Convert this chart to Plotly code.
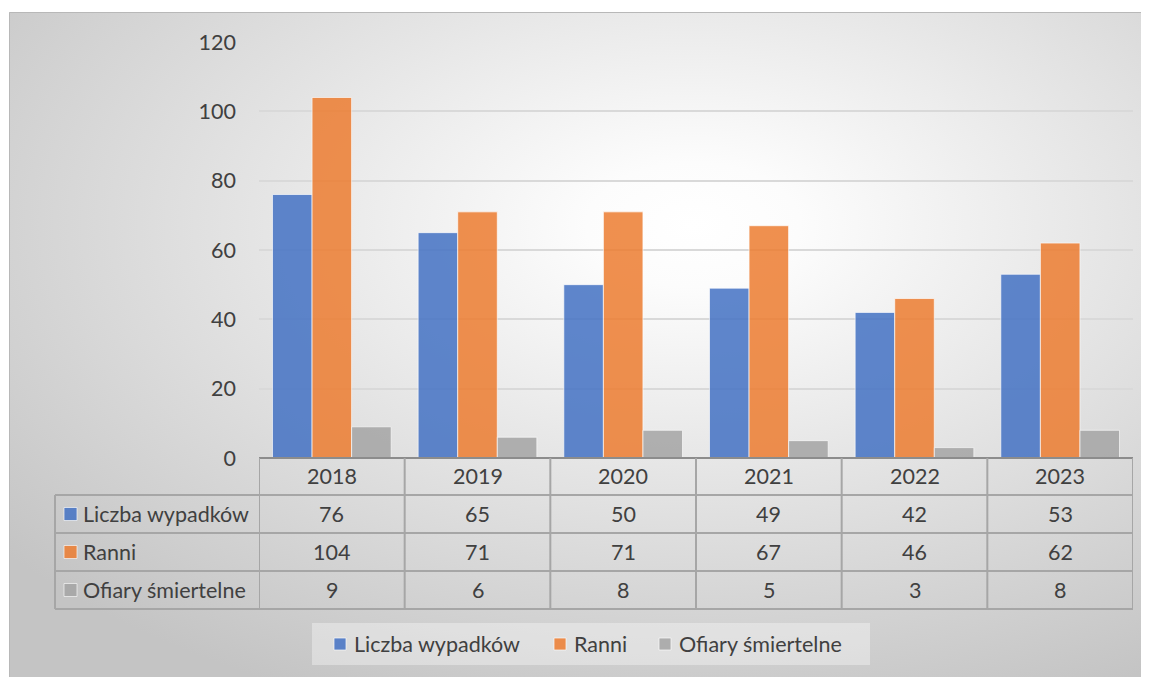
import base64
import plotly.graph_objects as go

years = ["2018", "2019", "2020", "2021", "2022", "2023"]
series_names = ["Liczba wypadków", "Ranni", "Ofiary śmiertelne"]
wypadki = [76, 65, 50, 49, 42, 53]
ranni = [104, 71, 71, 67, 46, 62]
ofiary = [9, 6, 8, 5, 3, 8]
y_ticks = [0, 20, 40, 60, 80, 100, 120]

series_values = [wypadki, ranni, ofiary]
colors = ["#4472C4", "#ED7D31", "#A5A5A5"]

OFF = 8  # page body margin
PAGE_W, PAGE_H = 1149, 677
W, H = PAGE_W - OFF, PAGE_H - OFF
L, R, T, B = 259, 1133, 42, 458  # plot area in page px
PW, PH = R - L, B - T
FONT = "Lato"
TXT = "#404040"
GRID = "#d9d9d9"
TBL = "#a6a6a6"
FS = 21.5


def px(x):
    return (x - L) / PW


def py(y):
    return (B - y) / PH


fig = go.Figure()
for name, vals, col in zip(series_names, series_values, colors):
    fig.add_trace(go.Bar(
        x=years, y=vals, name=name,
        marker=dict(color=col, opacity=0.85,
                    line=dict(color="rgba(255,255,255,0.7)", width=1)),
    ))

# background gradient image
svg = ('<svg xmlns="http://www.w3.org/2000/svg" width="1140" height="665" '
       'viewBox="0 0 1140 665" preserveAspectRatio="none"><defs>'
       '<radialGradient id="g" cx="0.6" cy="0.32" r="0.78">'
       '<stop offset="0" stop-color="#ffffff"/>'
       '<stop offset="0.12" stop-color="#fcfcfc"/>'
       '<stop offset="1" stop-color="#c4c4c4"/></radialGradient></defs>'
       '<rect width="1140" height="665" fill="url(#g)"/></svg>')
src = "data:image/svg+xml;base64," + base64.b64encode(svg.encode()).decode()

shapes = []
annotations = []

# chart border
shapes.append(dict(type="rect", xref="paper", yref="paper",
                   x0=px(9.5), x1=px(1160), y0=py(12.5), y1=py(690),
                   line=dict(color="#b8b8b8", width=1), layer="below"))

# table geometry (page px)
row_y = [458, 495, 533, 571, 609]
left_x = 55

for i, yy in enumerate(row_y):
    x0 = L if i == 0 else left_x
    shapes.append(dict(type="line", xref="paper", yref="paper",
                       x0=px(x0), x1=px(R), y0=py(yy), y1=py(yy),
                       line=dict(color=TBL if i > 0 else "#8c8c8c", width=2)))
shapes.append(dict(type="line", xref="paper", yref="paper",
                   x0=px(left_x), x1=px(left_x), y0=py(495), y1=py(609),
                   line=dict(color=TBL, width=2)))
for k in range(len(years) + 1):
    shapes.append(dict(type="line", xref="x", yref="paper",
                       x0=k - 0.5, x1=k - 0.5, y0=py(458), y1=py(609),
                       line=dict(color=TBL, width=2)))

for i, yr in enumerate(years):
    annotations.append(dict(x=i, xref="x", y=py((458 + 495) / 2), yref="paper",
                            text=yr, showarrow=False,
                            font=dict(family=FONT, size=FS, color=TXT),
                            xanchor="center", yanchor="middle"))
for r, (name, vals, col) in enumerate(zip(series_names, series_values, colors)):
    yc = (row_y[r + 1] + row_y[r + 2]) / 2
    shapes.append(dict(type="rect", xref="paper", yref="paper",
                       x0=px(64), x1=px(77), y0=py(yc - 6.5), y1=py(yc + 6.5),
                       fillcolor=col, opacity=0.85,
                       line=dict(color="rgba(255,255,255,0.7)", width=1)))
    annotations.append(dict(x=px(81), xref="paper", y=py(yc), yref="paper",
                            text=name, showarrow=False,
                            font=dict(family=FONT, size=FS, color=TXT),
                            xanchor="left", yanchor="middle"))
    for i, v in enumerate(vals):
        annotations.append(dict(x=i, xref="x", y=py(yc), yref="paper",
                                text=str(v), showarrow=False,
                                font=dict(family=FONT, size=FS, color=TXT),
                                xanchor="center", yanchor="middle"))

# legend (drawn manually to match spacing)
leg_y = 644
shapes.append(dict(type="rect", xref="paper", yref="paper",
                   x0=px(312), x1=px(870), y0=py(623), y1=py(665),
                   fillcolor="rgba(255,255,255,0.35)", line=dict(width=0)))
leg_sq_x = [334, 554, 659]
for name, col, sx in zip(series_names, colors, leg_sq_x):
    shapes.append(dict(type="rect", xref="paper", yref="paper",
                       x0=px(sx), x1=px(sx + 12), y0=py(leg_y - 6), y1=py(leg_y + 6),
                       fillcolor=col, opacity=0.85,
                       line=dict(color="rgba(255,255,255,0.7)", width=1)))
    annotations.append(dict(x=px(sx + 18), xref="paper", y=py(leg_y), yref="paper",
                            text=name, showarrow=False,
                            font=dict(family=FONT, size=FS, color=TXT),
                            xanchor="left", yanchor="middle"))

fig.update_layout(
    width=W, height=H,
    margin=dict(l=L - OFF, r=PAGE_W - R, t=T - OFF, b=PAGE_H - B, pad=0),
    paper_bgcolor="white",
    plot_bgcolor="rgba(0,0,0,0)",
    barmode="group", bargap=0.185, bargroupgap=0,
    font=dict(family=FONT, size=FS, color=TXT),
    images=[dict(source=src, xref="paper", yref="paper",
                 x=px(9), y=py(12), sizex=(PAGE_W - 9) / PW, sizey=(PAGE_H - 12) / PH,
                 xanchor="left", yanchor="top", sizing="stretch", layer="below")],
    shapes=shapes,
    annotations=annotations,
    showlegend=False,
)
fig.update_xaxes(showticklabels=False, showgrid=False, zeroline=False,
                 showline=False, ticks="", range=[-0.5, 5.5], fixedrange=True)
fig.update_yaxes(range=[0, 120], tickvals=y_ticks, showgrid=True, gridcolor=GRID,
                 gridwidth=1.5, zeroline=False, showline=False, ticks="",
                 ticklabelstandoff=22, tickfont=dict(family=FONT, size=FS, color=TXT))

fig.write_html("out.html")
